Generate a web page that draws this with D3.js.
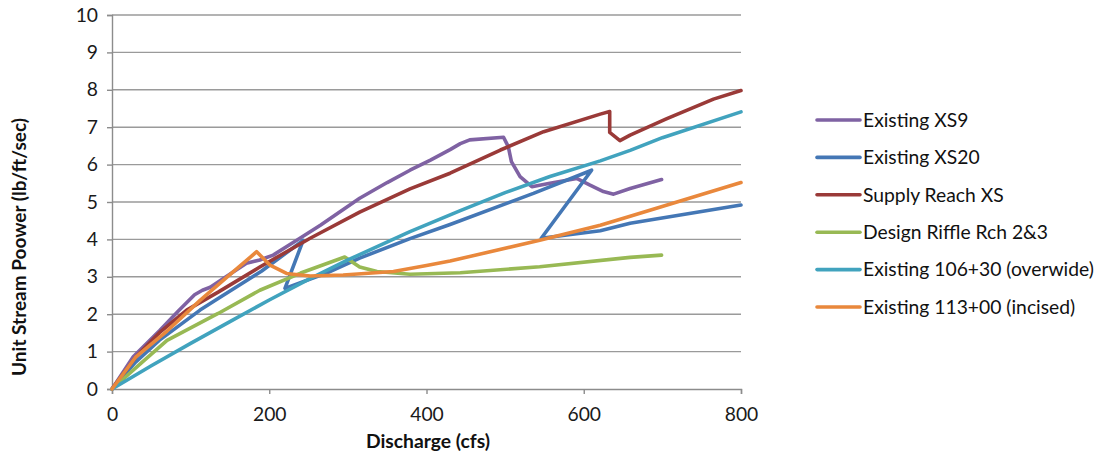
<!DOCTYPE html>
<html><head><meta charset="utf-8">
<script src="https://cdn.jsdelivr.net/npm/d3@7"></script>
<style>
html,body{margin:0;padding:0;background:#fff;}
svg{display:block;font-family:Lato, "Open Sans", sans-serif;}
</style></head>
<body>
<svg id="chart" width="1096" height="462"></svg>
<script>
// ---- data (discharge cfs, unit stream power lb/ft/sec), points joined in order ----
const seriesNames = ["Existing XS9","Existing XS20","Supply Reach XS","Design Riffle Rch 2&3","Existing 106+30 (overwide)","Existing 113+00 (incised)"];
const seriesColors = ["#7F62A3","#4477B5","#9A3A38","#98B954","#41A3BE","#E9883C"];

const xs9 = [[0,0],[27,0.86],[61,1.57],[85,2.1],[105,2.52],[115,2.64],[125,2.72],[145,3.0],[171,3.36],[188,3.45],[205,3.58],[239,4.03],[265,4.38],[315,5.1],[350,5.52],[379,5.85],[405,6.12],[430,6.4],[443,6.56],[455,6.66],[498,6.73],[504,6.48],[508,6.08],[519,5.68],[534,5.41],[557,5.5],[591,5.63],[608,5.45],[625,5.28],[638,5.21],[659,5.36],[699,5.6]];
const xs20 = [[0,0],[30,0.72],[60,1.3],[112,2.11],[135,2.42],[190,3.15],[243,3.97],[220,2.69],[273,3.1],[315,3.5],[379,4.02],[430,4.4],[536,5.23],[610,5.85],[546,4.03],[621,4.23],[659,4.43],[800,4.92]];
const supply = [[0,0],[30,0.85],[60,1.5],[95,2.11],[135,2.59],[188,3.26],[252,4.03],[315,4.73],[379,5.35],[430,5.77],[494,6.39],[549,6.88],[621,7.35],[633,7.42],[633,6.86],[646,6.64],[659,6.79],[705,7.22],[765,7.75],[800,7.98]];
const riffle = [[0,0],[37,0.69],[70,1.3],[135,2.02],[188,2.64],[240,3.1],[296,3.53],[315,3.26],[337,3.14],[379,3.07],[443,3.11],[544,3.27],[659,3.52],[699,3.58]];
const overwide = [[0,0],[50,0.62],[100,1.22],[150,1.8],[200,2.38],[250,2.93],[300,3.45],[379,4.21],[443,4.77],[500,5.25],[557,5.68],[621,6.1],[659,6.38],[700,6.72],[800,7.41]];
const incised = [[0,0],[30,0.85],[70,1.55],[112,2.37],[154,3.13],[184,3.67],[201,3.31],[222,3.09],[252,3.02],[294,3.05],[358,3.14],[400,3.3],[430,3.42],[544,3.98],[621,4.38],[659,4.62],[800,5.52]];

const xTicks = [0,200,400,600,800];
const yTicks = [0,1,2,3,4,5,6,7,8,9,10];
const xTitle = "Discharge (cfs)";
const yTitle = "Unit Stream Poower (lb/ft/sec)";

const allSeries = [xs9, xs20, supply, riffle, overwide, incised];

// ---- layout ----
const svg = d3.select("#chart");
const L = 112, R = 741, T = 15, B = 389;
const x = d3.scaleLinear().domain([0,800]).range([L,R]);
const y = d3.scaleLinear().domain([0,10]).range([B,T]);
const FS = 19.3;

// gridlines
svg.append("g").selectAll("line").data(yTicks.filter(d=>d>0)).join("line")
  .attr("x1",L).attr("x2",R).attr("y1",d=>y(d)).attr("y2",d=>y(d))
  .attr("stroke","#9a9a9a").attr("stroke-width",1.4);

// y axis
const yAxis = svg.append("g").attr("transform",`translate(${L},0)`)
  .call(d3.axisLeft(y).tickValues(yTicks).tickSize(5).tickPadding(9).tickFormat(d3.format("d")));
yAxis.select(".domain").attr("stroke","#8c8c8c").attr("stroke-width",1.4);
yAxis.selectAll(".tick line").attr("stroke","#8c8c8c").attr("stroke-width",1.4);
yAxis.selectAll("text").attr("font-size",FS).attr("fill","#1a1a1a").attr("font-family","Lato");

// x axis
const xAxis = svg.append("g").attr("transform",`translate(0,${B})`)
  .call(d3.axisBottom(x).tickValues(xTicks).tickSize(5).tickPadding(13).tickFormat(d3.format("d")));
xAxis.select(".domain").attr("stroke","#8c8c8c").attr("stroke-width",1.4);
xAxis.selectAll(".tick line").attr("stroke","#8c8c8c").attr("stroke-width",1.4);
xAxis.selectAll("text").attr("font-size",FS).attr("fill","#1a1a1a").attr("font-family","Lato");

// lines
const line = d3.line().x(d=>x(d[0])).y(d=>y(d[1]));
svg.append("g").selectAll("path").data(allSeries).join("path")
  .attr("d",line).attr("fill","none")
  .attr("stroke",(d,i)=>seriesColors[i]).attr("stroke-width",3.6)
  .attr("stroke-linejoin","round").attr("stroke-linecap","round");

// titles
svg.append("text").attr("x",428).attr("y",448).attr("text-anchor","middle")
  .attr("font-size",19.3).attr("font-weight","bold").attr("fill","#111").text(xTitle);
svg.append("text").attr("transform","translate(26,247) rotate(-90)").attr("text-anchor","middle")
  .attr("font-size",19).attr("font-weight","bold").attr("fill","#111").text(yTitle);

// legend
const lg = svg.append("g");
const item = lg.selectAll("g").data(seriesNames).join("g")
  .attr("transform",(d,i)=>`translate(817,${120 + i*37.4})`);
item.append("line").attr("x1",0).attr("x2",43).attr("y1",0).attr("y2",0)
  .attr("stroke",(d,i)=>seriesColors[i]).attr("stroke-width",3.6).attr("stroke-linecap","round");
item.append("text").attr("x",46).attr("y",6.8).attr("font-size",FS).attr("fill","#111").text(d=>d);
</script>
</body></html>
